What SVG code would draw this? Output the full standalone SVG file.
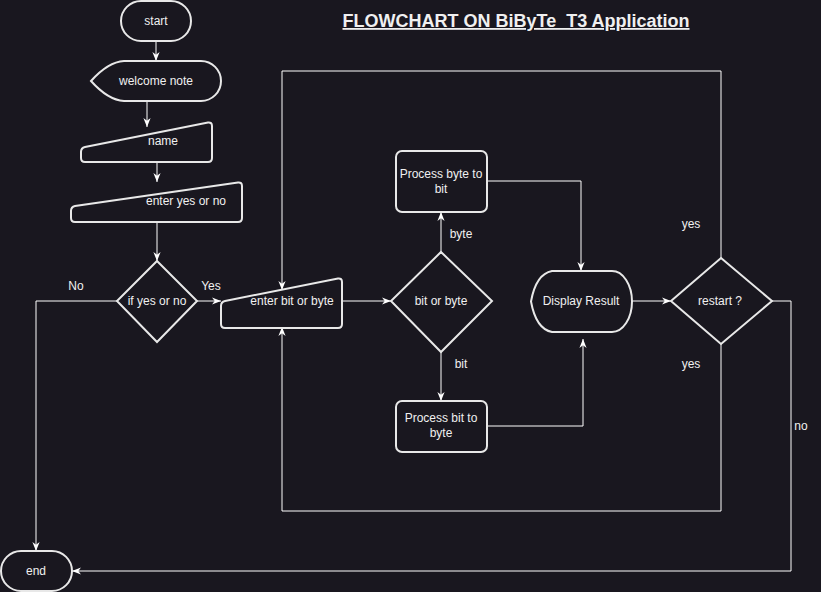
<svg xmlns="http://www.w3.org/2000/svg" width="821" height="592" viewBox="0 0 821 592">
<style>
.bg{fill:#19171f}
.shape{fill:#19171f;stroke:#e8e8e8;stroke-width:2}
.conn{fill:none;stroke:#ffffff;stroke-width:1}
.t{font-family:"Liberation Sans",Arial,sans-serif;font-size:12px;fill:#f0f0f0;text-anchor:middle}
.title{font-family:"Liberation Sans",Arial,sans-serif;font-size:18px;font-weight:bold;fill:#f0f0f0;text-anchor:middle;text-decoration:underline;white-space:pre}
</style>
<defs>
<marker id="arr" viewBox="0 0 10 10" refX="10" refY="5" markerWidth="9" markerHeight="9" markerUnits="userSpaceOnUse" orient="auto">
<path d="M0,1 L10,5 L0,9 L3,5 Z" fill="#ffffff"/>
</marker>
</defs>
<rect class="bg" x="0" y="0" width="821" height="592"/>
<text class="title" x="516" y="27" xml:space="preserve">FLOWCHART ON BiByTe  T3 Application</text>
<g id="connectors">
<path class="conn" d="M156,41 L156,61" marker-end="url(#arr)"/>
<path class="conn" d="M147,101 L147,127" marker-end="url(#arr)"/>
<path class="conn" d="M157,162 L157,182" marker-end="url(#arr)"/>
<path class="conn" d="M157,222 L157,261" marker-end="url(#arr)"/>
<path class="conn" d="M197,301 L221,301" marker-end="url(#arr)"/>
<path class="conn" d="M117,301 L36,301 L36,551" marker-end="url(#arr)"/>
<path class="conn" d="M342,301 L391,301" marker-end="url(#arr)"/>
<path class="conn" d="M441,252 L441,212" marker-end="url(#arr)"/>
<path class="conn" d="M441,352 L441,401" marker-end="url(#arr)"/>
<path class="conn" d="M487,181 L581,181 L581,271" marker-end="url(#arr)"/>
<path class="conn" d="M487,426 L583,426 L583,339" marker-end="url(#arr)"/>
<path class="conn" d="M632,301 L671,301" marker-end="url(#arr)"/>
<path class="conn" d="M721,258 L721,71 L282,71 L282,290" marker-end="url(#arr)"/>
<path class="conn" d="M721,344 L721,511 L282,511 L282,327" marker-end="url(#arr)"/>
<path class="conn" d="M772,301 L791,301 L791,571 L72,571" marker-end="url(#arr)"/>
<text class="t" x="76" y="290">No</text>
<text class="t" x="211" y="290">Yes</text>
<text class="t" x="461" y="238">byte</text>
<text class="t" x="461" y="368">bit</text>
<text class="t" x="691" y="228">yes</text>
<text class="t" x="691" y="368">yes</text>
<text class="t" x="801" y="430">no</text>
</g>
<g id="start">
<rect class="shape" x="121" y="1" width="70" height="40" rx="20" ry="20"/>
<text class="t" x="156" y="25">start</text>
</g>
<g id="welcome">
<path class="shape" d="M91,81 Q108,62 124,61 L201,61 A20,20 0 0 1 201,101 L124,101 Q108,100 91,81 Z"/>
<text class="t" x="156" y="85">welcome note</text>
</g>
<g id="name">
<path class="shape" d="M81,152 Q81,148 85,147 L208,122.5 Q212,122 212,126 L212,158 Q212,162 208,162 L85,162 Q81,162 81,158 Z"/>
<text class="t" x="163" y="145">name</text>
</g>
<g id="enteryes">
<path class="shape" d="M71,211 Q71,207 75,206 L238,182.5 Q242,182 242,186 L242,218 Q242,222 238,222 L75,222 Q71,222 71,218 Z"/>
<text class="t" x="186" y="205">enter yes or no</text>
</g>
<g id="ifyes">
<path class="shape" d="M157,261 L197,301 L157,342 L117,301 Z"/>
<text class="t" x="157" y="305">if yes or no</text>
</g>
<g id="enterbit">
<path class="shape" d="M221,306 Q221,302 225,301 L338,278.5 Q342,278 342,282 L342,324 Q342,328 338,328 L225,328 Q221,328 221,324 Z"/>
<text class="t" x="292" y="305">enter bit or byte</text>
</g>
<g id="bitorbyte">
<path class="shape" d="M441,252 L492,301 L441,352 L391,301 Z"/>
<text class="t" x="441" y="305">bit or byte</text>
</g>
<g id="procbyte">
<rect class="shape" x="396" y="151" width="91" height="61" rx="6" ry="6"/>
<text class="t" x="441" y="178">Process byte to</text>
<text class="t" x="441" y="193">bit</text>
</g>
<g id="procbit">
<rect class="shape" x="396" y="401" width="91" height="51" rx="6" ry="6"/>
<text class="t" x="441" y="422">Process bit to</text>
<text class="t" x="441" y="437">byte</text>
</g>
<g id="display">
<path class="shape" d="M531,301.5 Q536,274 552,271 L612,271 A20,30.5 0 0 1 612,332 L552,332 Q536,329 531,301.5 Z"/>
<text class="t" x="581" y="305">Display Result</text>
</g>
<g id="restart">
<path class="shape" d="M721,258 L772,301 L721,344 L671,301 Z"/>
<text class="t" x="720" y="305">restart ?</text>
</g>
<g id="end">
<rect class="shape" x="1" y="551" width="71" height="40" rx="20" ry="20"/>
<text class="t" x="36" y="575">end</text>
</g>
</svg>
